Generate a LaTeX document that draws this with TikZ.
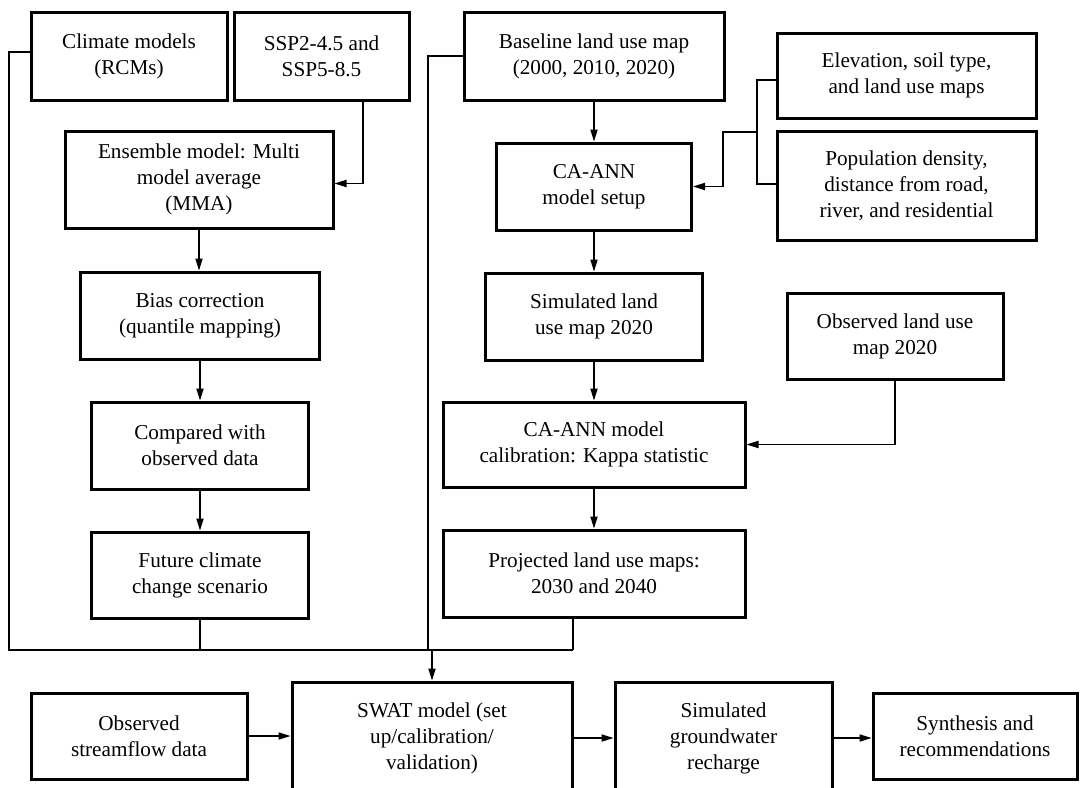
\documentclass[tikz,border=0pt]{standalone}
\usepackage{fontspec}
\setmainfont{Liberation Serif}
\usetikzlibrary{arrows.meta,calc}

\begin{document}
\begin{tikzpicture}[x=0.5pt,y=-0.5pt,line join=miter,>={Triangle[length=6pt,width=3.6pt]}]
	\tikzset{box/.style={draw,line width=1.5pt,align=center,inner sep=0pt,font=\fontsize{10.6}{13}\selectfont},
		sz/.style 2 args={minimum width=#1*0.5pt,minimum height=#2*0.5pt},
		link/.style={line width=0.6pt}}
	\useasboundingbox (0,0) rectangle (1080,787);
	\clip (0,0) rectangle (1080,787);
	% climate column
	\node[box,sz={196}{88}] (clim) at (129,56) {Climate models\\(RCMs)};
	\node[box,sz={175}{88}] (ssp) at (321.5,56) {SSP2-4.5 and\\SSP5-8.5};
	\node[box,sz={268}{97}] (ens) at (199,179.5) {Ensemble model: Multi\\model average\\(MMA)};
	\node[box,sz={239}{87}] (bias) at (200,315.5) {Bias correction\\(quantile mapping)};
	\node[box,sz={217}{87}] (comp) at (200,445.5) {Compared with\\observed data};
	\node[box,sz={217}{86}] (fut) at (200,575) {Future climate\\change scenario};
	% land use column
	\node[box,sz={260}{88}] (base) at (594,56) {Baseline land use map\\(2000, 2010, 2020)};
	\node[box,sz={195}{87}] (setup) at (594,186.5) {CA-ANN\\model setup};
	\node[box,sz={217}{87}] (sim) at (594,316.5) {Simulated land\\use map 2020};
	\node[box,sz={302}{85}] (calib) at (594,444.5) {CA-ANN model\\calibration: Kappa statistic};
	\node[box,sz={302}{87}] (proj) at (594,573.5) {Projected land use maps:\\2030 and 2040};
	\node[box,sz={259}{85}] (elev) at (906.5,75.5) {Elevation, soil type,\\and land use maps};
	\node[box,sz={259}{109}] (pop) at (906.5,185.5) {Population density,\\distance from road,\\river, and residential};
	\node[box,sz={216}{86}] (obs) at (895,336) {Observed land use\\map 2020};
	% bottom row
	\node[box,sz={216}{86}] (strm) at (139,736) {Observed\\streamflow data};
	\node[box,sz={280}{112}] (swat) at (432,738) {SWAT model (set\\up/calibration/\\validation)};
	\node[box,sz={217}{112}] (gw) at (723.5,738) {Simulated\\groundwater\\recharge};
	\node[box,sz={204}{86}] (syn) at (975,736) {Synthesis and\\recommendations};
	% junctions
	\coordinate (busL) at (9,650);
	\coordinate (busR) at (573,650);
	\coordinate (busB) at (428,650);
	\coordinate (ej) at (757,80);
	\coordinate (bj) at (757,132);
	\coordinate (pj) at (757,184);
	% connectors
	\foreach \a/\b in {ens/bias,bias/comp,comp/fut,base/setup,setup/sim,sim/calib,calib/proj}
	\draw[link,->] (\a.south) -- (\a.south |- \b.north);
	\draw[link,->] ($(ssp.south)+(41.5,0)$) |- ($(ens.east)+(0,4)$);
	\draw[link] (elev.west |- ej) -- (ej) -- (pj) -- (pop.west |- pj);
	\draw[link,->] (bj) -- ++(-34,0) |- (setup.east);
	\draw[link,->] (obs.south) |- (calib.east);
	\draw[link] ($(clim.west)+(0,-4)$) -| (busL) -- (busR);
	\draw[link] (fut.south) -- (fut.south |- busL);
	\draw[link] (base.west) -| (busB);
	\draw[link] ($(proj.south)+(-21,0)$) -- (busR);
	\draw[link,->] (swat.north |- busL) -- (swat.north);
	\draw[link,->] (strm.east) -- (strm.east -| swat.west);
	\draw[link,->] (swat.east |- gw.west) -- (gw.west);
	\draw[link,->] (gw.east) -- (gw.east -| syn.west);
\end{tikzpicture}
\end{document}
